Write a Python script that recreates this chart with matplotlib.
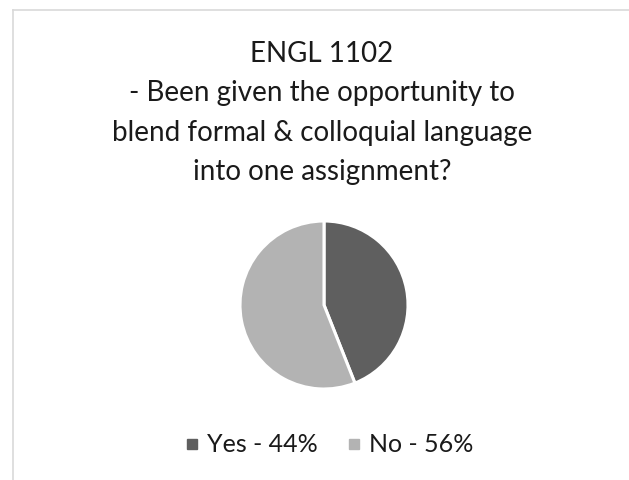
import matplotlib
matplotlib.use("Agg")
import matplotlib.pyplot as plt
from matplotlib.lines import Line2D

plt.rcParams['font.family'] = ['Lato', 'DejaVu Sans']

categories = ["Yes", "No"]
values = [44, 56]
colors = ["#5f5f5f", "#b3b3b3"]
title_lines = [
    "ENGL 1102",
    "- Been given the opportunity to",
    "blend formal & colloquial language",
    "into one assignment?",
]

W, H = 629, 480
fig = plt.figure(figsize=(W / 100, H / 100), dpi=100)
fig.patch.set_facecolor("white")

# chart-area frame (top and left edges)
fig.add_artist(Line2D([13 / W, 13 / W], [0, 1 - 10 / H], transform=fig.transFigure,
                      color="#d9d9d9", lw=1.2))
fig.add_artist(Line2D([13 / W, 1], [1 - 10 / H, 1 - 10 / H], transform=fig.transFigure,
                      color="#d9d9d9", lw=1.2))

# title
fig.text(322 / W, 1 - 113 / H, "\n".join(title_lines), ha="center", va="center",
         fontsize=20, color="#1a1a1a", linespacing=1.62)

# pie
cx, cy, r = 324, 305, 84
ax = fig.add_axes([(cx - r) / W, (H - cy - r) / H, 2 * r / W, 2 * r / H])
wedges, _ = ax.pie(values, colors=colors, startangle=90, counterclock=False,
                   wedgeprops=dict(edgecolor="white", linewidth=2.2))
ax.set_xlim(-1.0, 1.0)
ax.set_ylim(-1.0, 1.0)
ax.set_aspect("equal")
ax.axis("off")

handles = [Line2D([], [], marker="s", linestyle="", color=c, markersize=7.4) for c in colors]
labels = [f"{c} - {v}%" for c, v in zip(categories, values)]
fig.legend(handles, labels, loc="center", bbox_to_anchor=(330 / W, 1 - 445 / H),
           ncol=2, frameon=False, fontsize=18, handlelength=0.4, handletextpad=0.4,
           columnspacing=1.25, labelcolor="#1a1a1a")

fig.savefig("out.png", dpi=100, facecolor="white")
